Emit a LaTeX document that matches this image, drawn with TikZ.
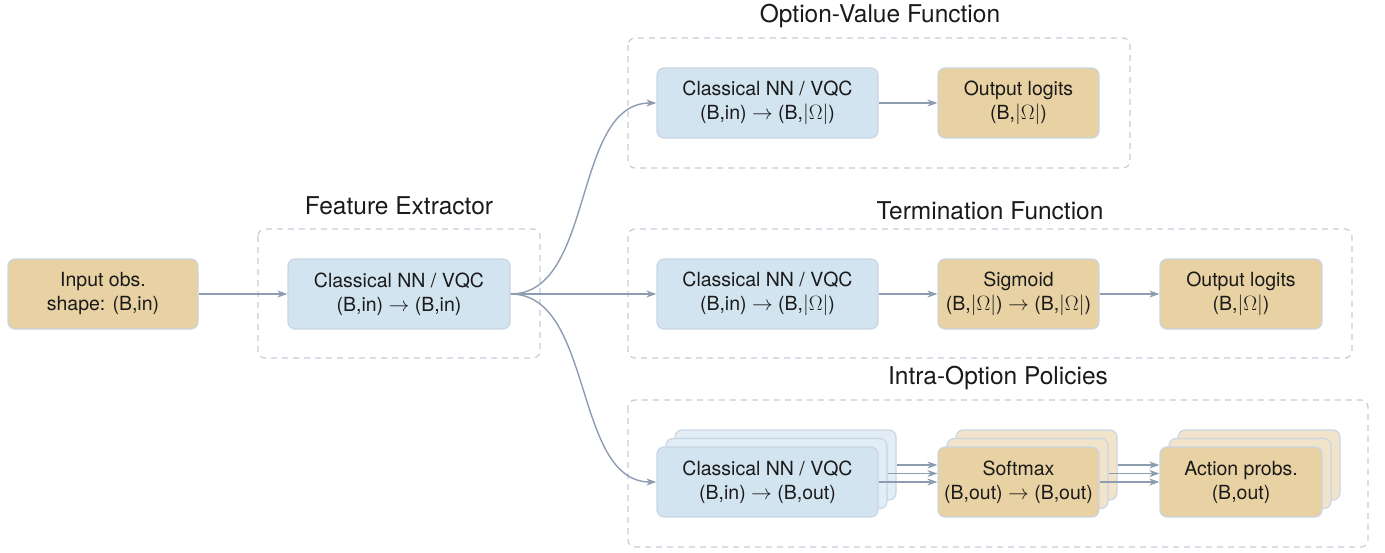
\documentclass[tikz,border=0pt]{standalone}
\usepackage{fontspec}
\setmainfont{TeX Gyre Heros}
\usetikzlibrary{arrows.meta}
\definecolor{boxblue}{HTML}{D3E4F1}
\definecolor{boxblueb}{HTML}{E2EDF6}
\definecolor{boxtan}{HTML}{E8D1A3}
\definecolor{boxtanb}{HTML}{F1E4CA}
\definecolor{edgec}{HTML}{C9D6E3}
\definecolor{arrc}{HTML}{8E9CB2}
\definecolor{dashc}{HTML}{C6CDD8}
\definecolor{txt}{HTML}{1A1A1A}
\begin{document}
\begin{tikzpicture}[x=1pt,y=-1pt,
  base/.style={draw=edgec,line width=1.2pt,rounded corners=7pt,minimum height=70pt,
    align=center,text=txt,font=\fontsize{19.5}{24}\selectfont,inner sep=0pt},
  bluebox/.style={base,fill=boxblue},
  bluebk/.style={base,fill=boxblueb},
  tanbox/.style={base,fill=boxtan},
  tanbk/.style={base,fill=boxtanb},
  grp/.style={draw=dashc,line width=1.2pt,dash pattern=on 6pt off 5pt,rounded corners=7pt},
  ttl/.style={text=txt,font=\fontsize{24.5}{28}\selectfont,inner sep=0pt},
  arr/.style={draw=arrc,line width=1.4pt,-{Stealth[length=10pt,width=7pt,inset=3pt]}}]
\useasboundingbox (0,0) rectangle (1385,552);
% groups
\draw[grp] (258,229) rectangle (540,358);
\draw[grp] (628,38) rectangle (1130,168);
\draw[grp] (628,229) rectangle (1352,358);
\draw[grp] (628,400) rectangle (1368,547);
\node[ttl] (tfe) at (399,206) {Feature Extractor};
\node[ttl] (tov) at (880,16) {Option-Value Function};
\node[ttl] (tt) at (990,211) {Termination Function};
\node[ttl] (ti) at (998,378) {Intra-Option Policies};
% nodes
\node[tanbox,minimum width=190pt] (inp) at (103,294) {Input obs.\\shape: (B,in)};
\node[bluebox,minimum width=222pt] (fe) at (399,294) {Classical NN / VQC\\(B,in) $\rightarrow$ (B,in)};
\node[bluebox,minimum width=221pt] (ovnn) at (767.5,103) {Classical NN / VQC\\(B,in) $\rightarrow$ (B,$|\Omega|$)};
\node[tanbox,minimum width=161pt] (ovout) at (1018.5,103) {Output logits\\(B,$|\Omega|$)};
\node[bluebox,minimum width=221pt] (tnn) at (767.5,294) {Classical NN / VQC\\(B,in) $\rightarrow$ (B,$|\Omega|$)};
\node[tanbox,minimum width=161pt] (tsig) at (1018.5,294) {Sigmoid\\(B,$|\Omega|$) $\rightarrow$ (B,$|\Omega|$)};
\node[tanbox,minimum width=162pt] (tout) at (1241,294) {Output logits\\(B,$|\Omega|$)};
% stacks
\node[bluebk,minimum width=221pt] (inn2) at (785.5,465) {};
\node[bluebk,minimum width=221pt] (inn1) at (776.5,473.5) {};
\node[bluebox,minimum width=221pt] (inn) at (767.5,482) {Classical NN / VQC\\(B,in) $\rightarrow$ (B,out)};
\node[tanbk,minimum width=161pt] (isoft2) at (1036.5,465) {};
\node[tanbk,minimum width=161pt] (isoft1) at (1027.5,473.5) {};
\node[tanbox,minimum width=161pt] (isoft) at (1018.5,482) {Softmax\\(B,out) $\rightarrow$ (B,out)};
\node[tanbk,minimum width=162pt] (iact2) at (1259,465) {};
\node[tanbk,minimum width=162pt] (iact1) at (1250,473.5) {};
\node[tanbox,minimum width=162pt] (iact) at (1241,482) {Action probs.\\(B,out)};
% arrows
\draw[arr] (inp.east) -- (fe.west);
\draw[arr] (fe.east) to[out=0,in=180,looseness=0.9] (ovnn.west);
\draw[arr] (fe.east) -- (tnn.west);
\draw[arr] (fe.east) to[out=0,in=180,looseness=0.9] (inn.west);
\draw[arr] (ovnn.east) -- (ovout.west);
\draw[arr] (tnn.east) -- (tsig.west);
\draw[arr] (tsig.east) -- (tout.west);
\draw[arr] (inn2.east) -- (inn2.east -| isoft.west);
\draw[arr] (inn1.east) -- (inn1.east -| isoft.west);
\draw[arr] (inn.east) -- (isoft.west);
\draw[arr] (isoft2.east) -- (isoft2.east -| iact.west);
\draw[arr] (isoft1.east) -- (isoft1.east -| iact.west);
\draw[arr] (isoft.east) -- (iact.west);
\end{tikzpicture}
\end{document}
